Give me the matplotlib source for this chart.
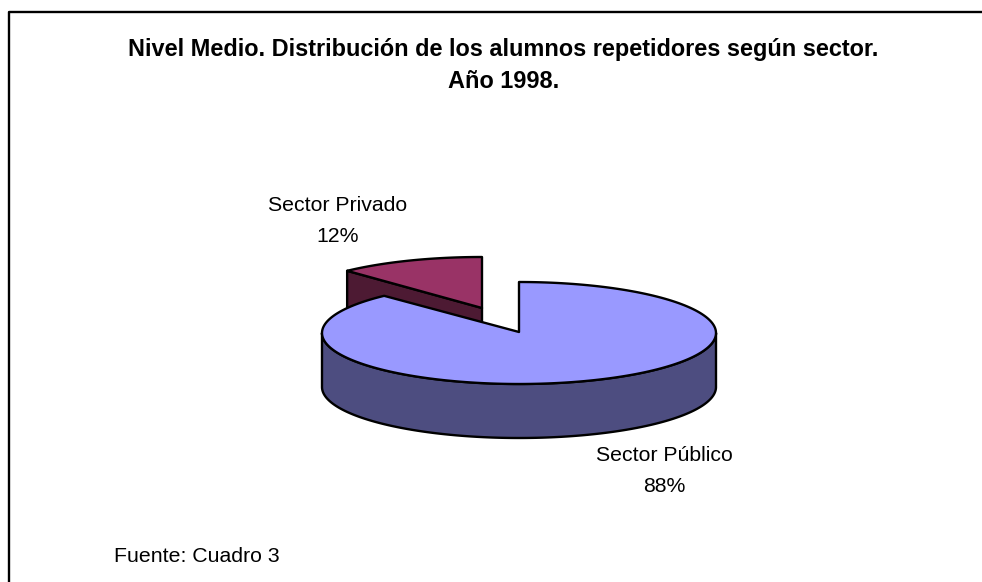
import numpy as np
import matplotlib
matplotlib.use("Agg")
import matplotlib.pyplot as plt
from matplotlib.patches import Polygon

plt.rcParams['font.family'] = ['Liberation Sans', 'DejaVu Sans']

# datos
sectores = ['Sector Público', 'Sector Privado']
porcentajes = [88, 12]
titulo = 'Nivel Medio. Distribución de los alumnos repetidores según sector.\nAño 1998.'
fuente = 'Fuente: Cuadro 3'

# geometria de la torta, en pixeles de la imagen
a, b = 197, 51
prof = 54
cx_pub, cy_pub = 519, 333
cx_pri, cy_pri = 482, 308
negro = dict(edgecolor='black', linewidth=1.7, joinstyle='round')


def punto(cx, cy, ang):
    # angulo en grados, antihorario desde el eje x
    return cx + a * np.cos(np.radians(ang)), cy - b * np.sin(np.radians(ang))


def arco(cx, cy, a1, a2):
    t = np.linspace(a1, a2, 200)
    return np.column_stack(punto(cx, cy, t))


fig = plt.figure(figsize=(9.82, 5.82), dpi=100)
ax = fig.add_axes([0, 0, 1, 1])
ax.set_xlim(0, 982)
ax.set_ylim(582, 0)
ax.axis('off')

# el sector publico arranca arriba y gira en sentido horario
fin = 90 + 360 * porcentajes[1] / sum(porcentajes)

# marco (se corta a derecha y abajo)
ax.plot([9, 9, 982], [582, 12, 12], color='black', lw=1.7)

# sector privado, separado del resto
px, py = punto(cx_pri, cy_pri, fin)
ax.add_patch(Polygon([(px, py), (cx_pri, cy_pri), (cx_pri, cy_pri + prof), (px, py + prof)],
                     facecolor='#4D1A33', **negro))
ax.add_patch(Polygon(np.vstack([[(cx_pri, cy_pri)], arco(cx_pri, cy_pri, 90, fin)]),
                     facecolor='#993366', **negro))

# sector publico: pared frontal y tapa
frente = arco(cx_pub, cy_pub, 180, 360)
pared = np.vstack([frente, (frente + [0, prof])[::-1]])
ax.add_patch(Polygon(pared, facecolor='#4D4D80', **negro))
tapa = np.vstack([[(cx_pub, cy_pub - 1)], arco(cx_pub, cy_pub, fin, 450)])
ax.add_patch(Polygon(tapa, facecolor='#9999FF', **negro))

# textos
ax.text(503.5, 65.5, titulo, ha='center', va='center', fontsize=16.9, fontweight='bold',
        linespacing=1.5, color='black')
ax.text(338, 221, f'{sectores[1]}\n{porcentajes[1]}%', ha='center', va='center',
        fontsize=15.3, linespacing=1.8, color='black')
ax.text(664, 471, f'{sectores[0]}\n{porcentajes[0]}%', ha='center', va='center',
        fontsize=15.3, linespacing=1.8, color='black')
ax.text(114, 557, fuente, ha='left', va='center', fontsize=15.3, color='black')

fig.savefig('out.png', dpi=100)
